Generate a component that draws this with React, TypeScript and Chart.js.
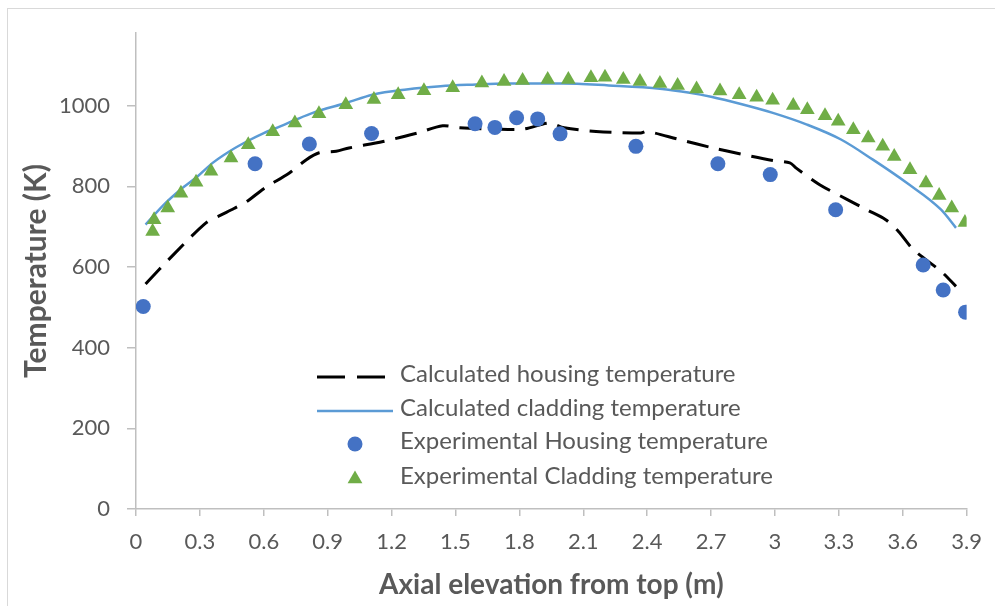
import React, { useEffect, useRef } from "react";
import { Chart, registerables } from "chart.js";

Chart.register(...registerables);

const FONT = "Lato, 'Open Sans', sans-serif";
const TEXT = "#595959";
const AXIS = "#bfbfbf";

// Axis tick values
const yTickValues = [0, 200, 400, 600, 800, 1000];

// Calculated housing temperature (dashed black line)
const calcHousingX = [0.045, 0.175, 0.33, 0.40, 0.46, 0.52, 0.6, 0.72, 0.80, 0.86, 0.94, 1.0, 1.16, 1.32, 1.44, 1.52, 1.68, 1.82, 1.94, 2.01, 2.16, 2.37, 2.40, 2.55, 2.71, 2.84, 2.99, 3.07, 3.10, 3.21, 3.34, 3.43, 3.52, 3.58, 3.65, 3.78, 3.85];
const calcHousingY = [558, 630, 710, 729, 745, 762, 794, 833, 866, 883, 887, 895, 911, 932, 950, 945, 942, 942, 957, 945, 936, 932, 936, 916, 895, 880, 864, 858, 845, 804, 767, 742, 717, 688, 643, 589, 552];

// Calculated cladding temperature (solid blue line)
const calcCladX = [0.045, 0.13, 0.21, 0.29, 0.36, 0.44, 0.52, 0.6, 0.68, 0.75, 0.83, 0.99, 1.11, 1.27, 1.43, 1.58, 1.74, 2.0, 2.22, 2.46, 2.6, 2.7, 2.84, 2.99, 3.15, 3.31, 3.46, 3.62, 3.78, 3.85];
const calcCladY = [705, 754, 792, 825, 858, 887, 911, 932, 949, 965, 982, 1007, 1027, 1040, 1048, 1052, 1055, 1055, 1050, 1042, 1032, 1022, 1004, 982, 953, 916, 866, 808, 742, 697];

// Experimental housing temperature (blue circles)
const expHousingX = [0.034, 0.559, 0.814, 1.106, 1.592, 1.685, 1.787, 1.886, 1.991, 2.347, 2.732, 2.978, 3.285, 3.696, 3.79, 3.895];
const expHousingY = [502, 856, 905, 931, 955, 946, 970, 967, 930, 899, 856, 829, 742, 605, 543, 488];

// Experimental cladding temperature (green triangles)
const expCladX = [0.078, 0.085, 0.149, 0.211, 0.282, 0.352, 0.446, 0.527, 0.642, 0.746, 0.859, 0.985, 1.117, 1.231, 1.352, 1.487, 1.624, 1.728, 1.815, 1.933, 2.03, 2.136, 2.202, 2.288, 2.366, 2.46, 2.543, 2.632, 2.742, 2.832, 2.914, 2.989, 3.086, 3.152, 3.235, 3.297, 3.368, 3.438, 3.506, 3.56, 3.634, 3.709, 3.771, 3.83, 3.892];
const expCladY = [688, 717, 746, 783, 810, 837, 870, 903, 935, 957, 980, 1002, 1015, 1027, 1037, 1044, 1056, 1060, 1062, 1065, 1065, 1069, 1070, 1065, 1060, 1055, 1050, 1041, 1036, 1027, 1021, 1013, 1000, 990, 975, 961, 940, 920, 899, 874, 841, 808, 777, 746, 710];

const legendLabels = [
  "Calculated housing temperature",
  "Calculated cladding temperature",
  "Experimental Housing temperature",
  "Experimental Cladding temperature",
];

const xTitle = "Axial elevation from top (m)";
const yTitle = "Temperature (K)";

const zip = (xs: number[], ys: number[]) => xs.map((x, i) => ({ x, y: ys[i] }));

export default function App() {
  const ref = useRef<HTMLCanvasElement | null>(null);

  useEffect(() => {
    document.body.style.margin = "0";
    const canvas = ref.current;
    if (!canvas) return;
    const chart = new Chart(canvas, {
      type: "scatter",
      data: {
        datasets: [
          {
            label: legendLabels[0],
            data: zip(calcHousingX, calcHousingY),
            showLine: true,
            borderColor: "#000000",
            borderWidth: 3,
            borderDash: [22, 11],
            pointRadius: 0,
            tension: 0.3,
            order: 2,
          },
          {
            label: legendLabels[1],
            data: zip(calcCladX, calcCladY),
            showLine: true,
            borderColor: "#5B9BD5",
            borderWidth: 2.5,
            pointRadius: 0,
            cubicInterpolationMode: "monotone",
            tension: 0.4,
            order: 2,
          },
          {
            label: legendLabels[2],
            data: zip(expHousingX, expHousingY),
            showLine: false,
            pointStyle: "circle",
            pointRadius: 7.5,
            backgroundColor: "#4472C4",
            borderColor: "#4472C4",
            borderWidth: 0,
            order: 1,
          },
          {
            label: legendLabels[3],
            data: zip(expCladX, expCladY),
            showLine: false,
            pointStyle: "triangle",
            pointRadius: 8.5,
            backgroundColor: "#70AD47",
            borderColor: "#70AD47",
            borderWidth: 0,
            order: 0,
          },
        ],
      },
      options: {
        responsive: false,
        animation: false,
        layout: { padding: { left: 0, top: 33, right: 28, bottom: 0 } },
        plugins: { legend: { display: false }, tooltip: { enabled: false } },
        scales: {
          x: {
            type: "linear",
            min: 0,
            max: 3.9,
            afterFit: (s: any) => {
              s.height = 97;
            },
            ticks: {
              stepSize: 0.3,
              autoSkip: false,
              color: TEXT,
              padding: 13,
              font: { family: FONT, size: 22 },
              maxRotation: 0,
              callback: (v: any) => String(Number(Number(v).toFixed(1))),
            },
            grid: { drawOnChartArea: false, drawTicks: true, tickLength: 7, color: AXIS, lineWidth: 1.5 },
            border: { display: true, color: AXIS, width: 1.5 },
            title: {
              display: true,
              text: xTitle,
              color: TEXT,
              font: { family: FONT, size: 28, weight: "bold" },
              padding: { top: 0, bottom: 4 },
            },
          },
          y: {
            type: "linear",
            min: 0,
            max: 1180,
            afterFit: (s: any) => {
              s.width = 136;
            },
            afterBuildTicks: (s: any) => {
              s.ticks = yTickValues.map((v) => ({ value: v }));
            },
            ticks: {
              autoSkip: false,
              color: TEXT,
              padding: 17,
              font: { family: FONT, size: 22 },
              callback: (v: any) => String(v),
            },
            grid: { drawOnChartArea: false, drawTicks: true, tickLength: 9, color: AXIS, lineWidth: 1.5 },
            border: { display: true, color: AXIS, width: 1.5 },
            title: {
              display: true,
              text: yTitle,
              color: TEXT,
              font: { family: FONT, size: 30, weight: "bold" },
              padding: { top: 18, bottom: 0 },
            },
          },
        },
      },
    } as any);
    return () => chart.destroy();
  }, []);

  const rowY = [373, 407, 440, 475];

  const symbol = (i: number) => {
    if (i === 0)
      return (
        <svg width={80} height={20}>
          <line x1={0} y1={10} x2={28} y2={10} stroke="#000" strokeWidth={3} />
          <line x1={40} y1={10} x2={68} y2={10} stroke="#000" strokeWidth={3} />
        </svg>
      );
    if (i === 1)
      return (
        <svg width={80} height={20}>
          <line x1={0} y1={10} x2={76} y2={10} stroke="#5B9BD5" strokeWidth={2.5} />
        </svg>
      );
    if (i === 2)
      return (
        <svg width={80} height={20}>
          <circle cx={38} cy={10} r={7.5} fill="#4472C4" />
        </svg>
      );
    return (
      <svg width={80} height={20}>
        <polygon points="38,1.5 45.4,14.25 30.6,14.25" fill="#70AD47" />
      </svg>
    );
  };

  return (
    <div style={{ position: "absolute", left: 0, top: 0, width: 995, height: 606, background: "#fff", overflow: "hidden" }}>
      <div
        style={{
          position: "absolute",
          left: 7,
          top: 8,
          width: 1000,
          height: 620,
          borderLeft: "1.5px solid #d9d9d9",
          borderTop: "1.5px solid #d9d9d9",
          boxSizing: "border-box",
        }}
      />
      <canvas ref={ref} width={995} height={606} style={{ position: "absolute", left: 0, top: 0 }} />
      {legendLabels.map((label, i) => (
        <div
          key={label}
          style={{
            position: "absolute",
            left: 317,
            top: rowY[i] - 14,
            height: 28,
            display: "flex",
            alignItems: "center",
            fontFamily: FONT,
            fontSize: 24,
            color: TEXT,
            whiteSpace: "nowrap",
          }}
        >
          <div style={{ width: 83, height: 20 }}>{symbol(i)}</div>
          <span style={{ lineHeight: "28px" }}>{label}</span>
        </div>
      ))}
    </div>
  );
}
